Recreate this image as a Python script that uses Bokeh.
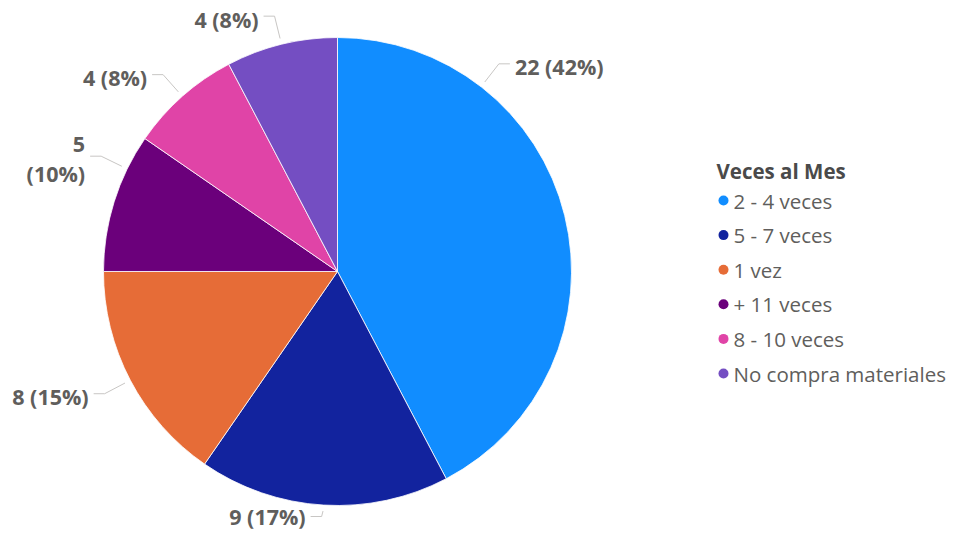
import math
from bokeh.plotting import figure
from bokeh.models import Range1d, ColumnDataSource
from bokeh.core.properties import value
from bokeh.embed import file_html
from bokeh.resources import INLINE

# ---- data ----
CATEGORIES = ["2 - 4 veces", "5 - 7 veces", "1 vez", "+ 11 veces", "8 - 10 veces", "No compra materiales"]
COUNTS = [22, 9, 8, 5, 4, 4]
COLORS = ["#118DFF", "#12239E", "#E66C37", "#6B007B", "#E044A7", "#744EC2"]
LEGEND_TITLE = "Veces al Mes"

# ---- layout ----
W, H = 947, 534
CX, CY, R = 337, H - 271, 234
LABEL_SHIFT_DEG = [-38.3, 0, 0, 8.7, 0, 0]   # label anchor shifts (deg, clockwise)
LABEL_WRAP = [False, False, False, True, False, False]
LBL_FONT = value("Open Sans")
TXT_COLOR = "#605E5C"
MIN_Y = 18  # keep label text inside the frame

p = figure(width=W, height=H, output_backend="svg", toolbar_location=None,
           x_range=Range1d(0, W), y_range=Range1d(0, H), min_border=0,
           x_axis_location=None, y_axis_location=None)
p.grid.visible = False
p.outline_line_color = None
p.background_fill_color = "white"
p.border_fill_color = "white"

total = sum(COUNTS)
starts, ends, mids = [], [], []
acc = 0.0
for c in COUNTS:
    t1 = acc / total * 360.0
    acc += c
    t2 = acc / total * 360.0
    starts.append(math.pi / 2 - math.radians(t1))
    ends.append(math.pi / 2 - math.radians(t2))
    mids.append((t1 + t2) / 2)

src = ColumnDataSource(dict(start=starts, end=ends, color=COLORS))
p.wedge(x=CX, y=CY, radius=R, radius_units="screen", start_angle="start", end_angle="end",
        direction="clock", fill_color="color", line_color="white", line_width=0.8, source=src)

# ---- labels with leader lines ----
xs, ys = [], []
tx, ty, tt, ta = [], [], [], []
for i, c in enumerate(COUNTS):
    th = math.radians(mids[i] + LABEL_SHIFT_DEG[i])
    s = math.sin(th); co = math.cos(th)
    x0, y0 = CX + 240 * s, CY + 240 * co
    x1, y1 = CX + 263 * s, CY + 263 * co
    y1 = max(y1, MIN_Y)
    side = 1 if s > 0.001 else -1
    x2 = x1 + side * 11
    xs.append([x0, x1, x2]); ys.append([y0, y1, y1])
    pct = round(c / total * 100)
    align = "left" if side > 0 else "right"
    xt = x2 + side * 5
    if LABEL_WRAP[i]:
        tx += [xt, xt]; ty += [y1 + 12, y1 - 17]
        tt += [f"{c}", f"({pct}%)"]; ta += [align, align]
    else:
        tx.append(xt); ty.append(max(y1 - 3, MIN_Y)); tt.append(f"{c} ({pct}%)"); ta.append(align)

p.multi_line(xs=xs, ys=ys, line_color="#C8C6C4", line_width=1)
p.text(x=tx, y=ty, text=tt, text_align=ta, text_baseline="middle",
       text_font=LBL_FONT, text_font_style="bold", text_font_size="21.5px", text_color=TXT_COLOR)

# ---- legend ----
LX = 716
TITLE_Y = H - 170
ITEM_Y0 = H - 200
STEP = 34.6
p.text(x=[LX], y=[TITLE_Y], text=[LEGEND_TITLE], text_align="left", text_baseline="middle",
       text_font=LBL_FONT, text_font_style="bold", text_font_size="20.5px", text_color="#4A4A4A")
ly = [ITEM_Y0 - i * STEP for i in range(len(CATEGORIES))]
p.scatter(x=[LX + 7] * len(CATEGORIES), y=ly, size=10, marker="circle",
          fill_color=COLORS, line_color=None)
p.text(x=[LX + 17] * len(CATEGORIES), y=ly, text=CATEGORIES, text_align="left",
       text_baseline="middle", text_font=LBL_FONT, text_font_size="20.5px", text_color=TXT_COLOR)

open("out.html", "w").write(file_html(p, INLINE))
